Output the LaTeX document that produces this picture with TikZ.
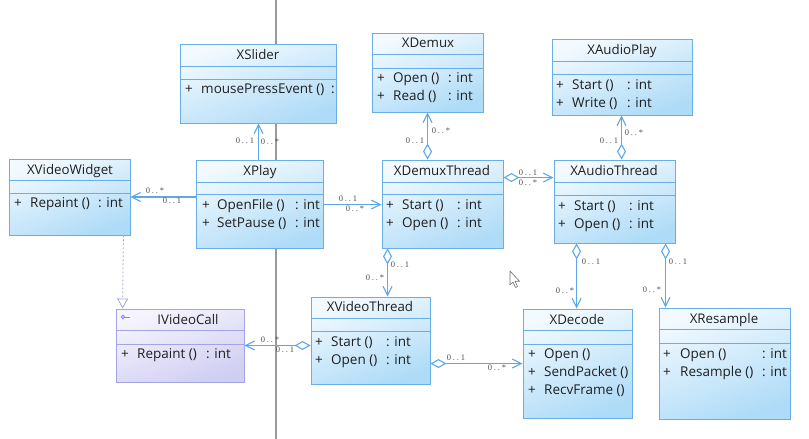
\documentclass[tikz,border=0pt]{standalone}
\usepackage{fontspec}
\setmainfont{Open Sans}
\newfontfamily\multfont[LetterSpace=22]{Liberation Serif}
\usetikzlibrary{arrows.meta,calc,fit}
\definecolor{boxtop}{HTML}{F3FAFF}
\definecolor{boxbot}{HTML}{AEDBF7}
\definecolor{boxedge}{HTML}{6AAEE8}
\definecolor{ifctop}{HTML}{F6F5FD}
\definecolor{ifcbot}{HTML}{D0CEF2}
\definecolor{ifcedge}{HTML}{A4A4E4}
\definecolor{conn}{HTML}{5EA8EA}
\definecolor{multc}{HTML}{505050}
\definecolor{splitc}{HTML}{9A9A9A}

\newcommand\umlbox[8]{%
  \node[#8, fit={(#2,#3) (#4,#5)}] (#1) {};
  \draw[#8sep] (#2,#6) -- (#4,#6) (#2,#7) -- (#4,#7);
}
\newcommand\mline[7]{%
  \node[mt] (#1p) at (#2,#4) {+};
  \node[mt, anchor=west] (#1n) at (#3,#4) {#5};
  \if\relax\detokenize{#7}\relax\else\node[mt, anchor=west] (#1c) at (#6,#4) {#7};\fi
}

\begin{document}
\begin{tikzpicture}[x=1pt,y=-1pt,
  cls/.style={draw=boxedge, line width=0.9pt, top color=boxtop, bottom color=boxbot, shading angle=20, inner sep=0pt},
  clssep/.style={draw=boxedge, line width=0.9pt},
  ifc/.style={draw=ifcedge, line width=0.9pt, top color=ifctop, bottom color=ifcbot, shading angle=20, inner sep=0pt},
  ifcsep/.style={draw=ifcedge, line width=0.9pt},
  mt/.style={font=\fontsize{13.5}{15}\selectfont, text=black!88, inner sep=0pt, text height=9.5pt, text depth=0pt},
  tt/.style={font=\fontsize{13.3}{15}\selectfont, text=black!88, inner sep=0pt, text height=9.5pt, text depth=0pt},
  mult/.style={font=\multfont\fontsize{8.5}{9}\selectfont, text=multc, inner sep=0pt, text height=5.5pt, text depth=0pt},
  assoc/.style={draw=conn, line width=1.1pt, -{Straight Barb[length=9pt,width=9pt]}},
  aggr/.style={draw=conn, line width=1.1pt, {Diamond[open,length=16pt,width=9pt]}-{Straight Barb[length=9pt,width=9pt]}},
  realize/.style={draw=ifcedge, line width=0.8pt, dash pattern=on 2pt off 2pt, -{Triangle[open,length=10pt,width=11pt,line width=0.8pt]}}
]
\useasboundingbox[fill=white] (0,0) rectangle (809,439);

% splitter line behind the diagram
\draw[splitc, line width=2pt] (276,0) -- (276,439);

% classes
\umlbox{xslider}{180}{44}{336}{123}{66}{79}{cls}
\umlbox{xplay}{196}{160}{323}{248}{182}{194}{cls}
\umlbox{xvw}{9}{159}{130}{235}{180}{193}{cls}
\umlbox{xdemux}{372}{33}{483}{112}{54}{68}{cls}
\umlbox{xdt}{382}{160}{503}{248}{182}{194}{cls}
\umlbox{xap}{552}{39}{692}{115}{61}{74}{cls}
\umlbox{xat}{554}{160}{675}{243}{182}{195}{cls}
\umlbox{ivc}{116}{309}{244}{382}{330}{344}{ifc}
\umlbox{xvt}{311}{297}{430}{384}{318}{331}{cls}
\umlbox{xdec}{523}{309}{632}{418}{330}{344}{cls}
\umlbox{xres}{659}{308}{790}{419}{329}{343}{cls}

% titles
\node[tt] (t-xslider) at (258,55) {XSlider};
\node[tt] (t-xplay) at (260,171) {XPlay};
\node[tt] (t-xvw) at (70,170) {XVideoWidget};
\node[tt] (t-xdemux) at (428,43) {XDemux};
\node[tt] (t-xdt) at (442,171) {XDemuxThread};
\node[tt] (t-xap) at (622,50) {XAudioPlay};
\node[tt] (t-xat) at (614,171) {XAudioThread};
\node[tt] (t-ivc) at (188,320) {IVideoCall};
\node[tt] (t-xvt) at (370,307) {XVideoThread};
\node[tt] (t-xdec) at (577,320) {XDecode};
\node[tt] (t-xres) at (724,319) {XResample};

% interface icon
\node[circle, draw=ifcedge!80!blue, line width=0.8pt, inner sep=0pt, minimum size=3.5pt] (icon) at (123,317) {};
\draw[ifcedge!80!blue, line width=0.8pt] (icon.east) -- ++(5,0);

% operations
\mline{a1}{189}{201}{89}{mousePressEvent ()}{331}{:}
\mline{b1}{206}{217}{205}{OpenFile ()}{295}{: int}
\mline{b2}{206}{217}{223}{SetPause ()}{295}{: int}
\mline{c1}{18}{30}{203}{Repaint ()}{98}{: int}
\mline{d1}{381}{393}{78}{Open ()}{448}{: int}
\mline{d2}{381}{393}{96}{Read ()}{448}{: int}
\mline{e1}{390}{402}{205}{Start ()}{457}{: int}
\mline{e2}{390}{402}{223}{Open ()}{457}{: int}
\mline{f1}{560}{572}{85}{Start ()}{627}{: int}
\mline{f2}{560}{572}{103}{Write ()}{627}{: int}
\mline{g1}{562}{574}{206}{Start ()}{629}{: int}
\mline{g2}{562}{574}{224}{Open ()}{629}{: int}
\mline{h1}{125}{137}{354}{Repaint ()}{206}{: int}
\mline{i1}{319}{331}{342}{Start ()}{386}{: int}
\mline{i2}{319}{331}{360}{Open ()}{386}{: int}
\mline{j1}{532}{544}{354}{Open ()}{0}{}
\mline{j2}{532}{544}{372}{SendPacket ()}{0}{}
\mline{j3}{532}{544}{390}{RecvFrame ()}{0}{}
\mline{k1}{667}{680}{354}{Open ()}{762}{: int}
\mline{k2}{667}{680}{372}{Resample ()}{762}{: int}

% connectors
\draw[assoc] ($(xplay.north west)+(63,0)$) -- ($(xslider.south west)+(79,0)$);
\draw[assoc] (xplay.west |- xvw.east) -- (xvw.east);
\draw[assoc] ($(xplay.north east)+(0,45)$) -- ($(xdt.north west)+(0,45)$);
\draw[aggr] ($(xdt.north west)+(46,0)$) -- ($(xdemux.south west)+(56,0)$);
\draw[aggr] ($(xdt.north east)+(0,18)$) -- ($(xat.north west)+(0,18)$);
\draw[aggr] ($(xat.north west)+(68,0)$) -- ($(xap.south west)+(70,0)$);
\draw[aggr] ($(xdt.south west)+(6,0)$) -- ($(xvt.north west)+(77,0)$);
\draw[aggr] (xvt.west |- ivc.east) -- (ivc.east);
\draw[aggr] ($(xvt.north east)+(0,67)$) -- ($(xdec.north west)+(0,55)$);
\draw[aggr] ($(xat.south west)+(23,0)$) -- ($(xdec.north west)+(54,0)$);
\draw[aggr] ($(xat.south west)+(112,0)$) -- ($(xres.north west)+(7,0)$);
\draw[realize] ($(xvw.south east)+(-7,0)$) -- ($(ivc.north west)+(7,0)$);

% multiplicities
\node[mult] (m1) at (245,141) {0..1};
\node[mult] (m2) at (270,142) {0..*};
\node[mult] (m3) at (155,191) {0..*};
\node[mult] (m4) at (172,201) {0..1};
\node[mult] (m5) at (348,199) {0..1};
\node[mult] (m6) at (355,209) {0..*};
\node[mult] (m7) at (441,131) {0..*};
\node[mult] (m8) at (415,141) {0..1};
\node[mult] (m9) at (528,173) {0..1};
\node[mult] (m10) at (528,183) {0..*};
\node[mult] (m11) at (609,141) {0..1};
\node[mult] (m12) at (634,133) {0..*};
\node[mult] (m13) at (400,265) {0..1};
\node[mult] (m14) at (375,278) {0..*};
\node[mult] (m15) at (270,340) {0..*};
\node[mult] (m16) at (285,350) {0..1};
\node[mult] (m17) at (456,358) {0..1};
\node[mult] (m18) at (497,368) {0..*};
\node[mult] (m19) at (591,262) {0..1};
\node[mult] (m20) at (565,291) {0..*};
\node[mult] (m21) at (678,262) {0..1};
\node[mult] (m22) at (652,290) {0..*};

% mouse pointer
\draw[fill=white, draw=black!55, line width=0.6pt, line join=round]
  (510,271) -- (510,285) -- (513,282) -- (515.5,287.5) -- (517.5,286.6) -- (515,281.2) -- (519.5,281.2) -- cycle;
\end{tikzpicture}
\end{document}
